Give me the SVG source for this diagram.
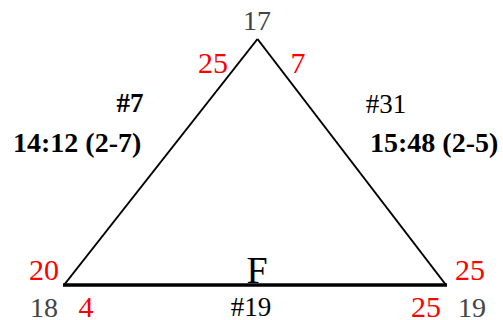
<svg xmlns="http://www.w3.org/2000/svg" width="503" height="320" viewBox="0 0 503 320">
<style>
text{font-family:"Liberation Serif","Times New Roman",serif}
.g{fill:#444;font-size:28px}
.r{fill:#f00;font-size:30px}
.b{fill:#000;font-size:28px;font-weight:bold}
.n{fill:#000;font-size:27px}
</style>
<rect width="503" height="320" fill="#fff"/>
<g id="connectors" stroke="#000" fill="none">
<line x1="257.5" y1="39" x2="64" y2="285" stroke-width="2"/>
<line x1="257.5" y1="39" x2="446" y2="285" stroke-width="2"/>
<line x1="63" y1="285" x2="447" y2="285" stroke-width="3.5"/>
</g>
<g id="n17"><text class="g" x="257" y="30" text-anchor="middle">17</text>
<text class="r" x="213" y="73" text-anchor="middle">25</text>
<text class="r" x="298" y="73" text-anchor="middle">7</text></g>
<g id="n18"><text class="g" x="44" y="317" text-anchor="middle">18</text>
<text class="r" x="44" y="280" text-anchor="middle">20</text>
<text class="r" x="86" y="317" text-anchor="middle">4</text></g>
<g id="n19"><text class="g" x="472" y="317" text-anchor="middle">19</text>
<text class="r" x="470" y="280" text-anchor="middle">25</text>
<text class="r" x="426" y="317" text-anchor="middle">25</text></g>
<g id="e7"><text class="n" x="130" y="112" text-anchor="middle" font-weight="bold">#7</text>
<text class="b" x="13" y="152">14:12 (2-7)</text></g>
<g id="e31"><text class="n" x="386" y="113" text-anchor="middle">#31</text>
<text class="b" x="370" y="152">15:48 (2-5)</text></g>
<g id="e19"><text class="n" x="251" y="316" text-anchor="middle">#19</text>
<text x="257" y="283" text-anchor="middle" font-size="38" fill="#000">F</text></g>
</svg>
